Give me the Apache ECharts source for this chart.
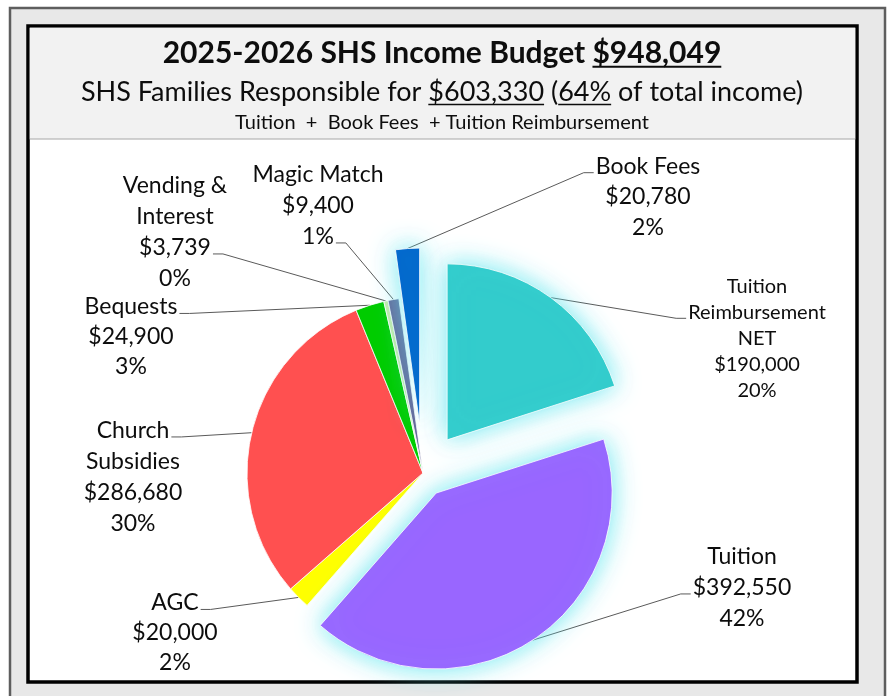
<!DOCTYPE html>
<html><head><meta charset="utf-8">
<script src="https://cdn.jsdelivr.net/npm/echarts@6/dist/echarts.min.js"></script>
<style>html,body{margin:0;padding:0;background:#fff}#c{width:892px;height:696px}</style>
</head><body><div id="c"></div>
<script>
// ---------------- data ----------------
const categories = ['Tuition Reimbursement NET','Tuition','AGC','Church Subsidies','Bequests','Vending & Interest','Magic Match','Book Fees'];
const labelNames = ['Tuition\nReimbursement\nNET','Tuition','AGC','Church\nSubsidies','Bequests','Vending &\nInterest','Magic Match','Book Fees'];
const values = [190000,392550,20000,286680,24900,3739,9400,20780];
const titleMain = '2025-2026 SHS Income Budget ';
const titleAmount = '$948,049';
const subtitleParts = ['SHS Families Responsible for ', '$603,330', ' (', '64%', ' of total income)'];
const subtitleUnderline = [false, true, false, true, false];
const noteText = 'Tuition  +  Book Fees  + Tuition Reimbursement';

// ---------------- style / layout ----------------
const colors = ['#33CCCC','#9966FF','#FFFF00','#FF5050','#00CC00','#C8EBA8','#666699','#0066CC'];
const explode = {'Tuition Reimbursement NET': 41, 'Tuition': 24, 'Book Fees': 49};
const CX = 423, CY = 473, R = 176;
const FONT = 'Lato';
const labelCfg = {
  'Tuition Reimbursement NET': {x: 757, top: 274, lh: 25.8, size: 20, side: 'left', line: 1},
  'Tuition':            {x: 742, top: 541, lh: 31, size: 23, side: 'left',  line: 1},
  'AGC':                {x: 175, top: 588, lh: 30, size: 23, side: 'right', line: 0},
  'Church Subsidies':   {x: 133, top: 415, lh: 31, size: 23, side: 'right', line: 0},
  'Bequests':           {x: 131, top: 292, lh: 30, size: 23, side: 'right', line: 0},
  'Vending & Interest': {x: 175, top: 170, lh: 31, size: 23, side: 'right', line: 2},
  'Magic Match':        {x: 318, top: 159, lh: 31, size: 23, side: 'right', line: 2},
  'Book Fees':          {x: 648, top: 151, lh: 30.5, size: 23, side: 'left', line: 0}
};

const mctx = document.createElement('canvas').getContext('2d');
function tw(text, font) { mctx.font = font; return mctx.measureText(text).width; }

const total = values.reduce((a, b) => a + b, 0);
const textCache = {};
function labelText(p) {
  const t = labelNames[p.dataIndex] + '\n$' + echarts.format.addCommas(p.value) + '\n' + p.percent + '%';
  textCache[p.dataIndex] = t;
  return t;
}

function labelLayout(params) {
  const i = params.dataIndex;
  const cfg = labelCfg[categories[i]];
  const txt = params.text || textCache[i] || labelNames[i];
  const lines = txt.split('\n');
  const lw = tw(lines[cfg.line] || '', cfg.size + 'px ' + FONT);
  const ay = cfg.top + cfg.lh * cfg.line + cfg.lh / 2 + cfg.size * 0.28;
  const ax = cfg.side === 'left' ? cfg.x - lw / 2 - 2 : cfg.x + lw / 2 + 2;
  const ex = cfg.side === 'left' ? ax - 10 : ax + 10;
  const p0 = params.labelLinePoints ? params.labelLinePoints[0] : [ex, ay];
  return {x: cfg.x, y: cfg.top, align: 'center', verticalAlign: 'top',
          labelLinePoints: [p0, [ex, ay], [ax, ay]]};
}

function makeSeries(members, center, glow) {
  return {
    type: 'pie', center: center, radius: R, startAngle: 90, clockwise: true,
    avoidLabelOverlap: false, percentPrecision: 0, silent: true, animation: false,
    emphasis: {disabled: true}, minShowLabelAngle: 0,
    label: {show: true, position: 'outside', formatter: labelText, color: '#0d0d0d',
            fontFamily: FONT, fontSize: 23, lineHeight: 31},
    labelLine: {show: true, lineStyle: {color: '#5a5a5a', width: 1}},
    labelLayout: labelLayout,
    data: categories.map((c, i) => {
      const on = members.includes(i);
      const cfg = labelCfg[c];
      const item = {name: c, value: values[i]};
      if (on) {
        item.itemStyle = Object.assign({color: colors[i], borderColor: '#fff', borderWidth: 0.8},
          glow ? {shadowBlur: 26, shadowColor: 'rgba(95,230,238,0.9)'} : {});
        item.label = {show: true, fontSize: cfg.size, lineHeight: cfg.lh};
        item.labelLine = {show: true};
      } else {
        item.itemStyle = {color: 'rgba(0,0,0,0)', borderWidth: 0};
        item.label = {show: false};
        item.labelLine = {show: false};
      }
      return item;
    })
  };
}

// cumulative mid-angles (clockwise from 12 o'clock) to place exploded slices
let cum = 0;
const midAngles = values.map(v => { const m = (cum + v / 2) / total * 2 * Math.PI; cum += v; return m; });

const baseMembers = categories.map((c, i) => i).filter(i => !(categories[i] in explode));
const series = [makeSeries(baseMembers, [CX, CY], false)];
categories.forEach((c, i) => {
  if (c in explode) {
    const d = explode[c];
    series.push(makeSeries([i], [CX + d * Math.sin(midAngles[i]), CY - d * Math.cos(midAngles[i])], true));
  }
});

// ---------------- titles (text + underlines) ----------------
const TX = 442;
const titleFont = 'bold 30px ' + FONT, subFont = '27px ' + FONT, noteFont = '20px ' + FONT;
const graphic = [
  {type: 'rect', z: -5, shape: {x: 10, y: 8, width: 875, height: 700}, style: {fill: '#e8e8e8', stroke: '#5e5e5e', lineWidth: 2.5}},
  {type: 'rect', z: -4, shape: {x: 28, y: 26, width: 829, height: 656}, style: {fill: '#fff', stroke: '#000', lineWidth: 3.5}},
  {type: 'rect', z: -3, shape: {x: 29.75, y: 27.75, width: 825.5, height: 111}, style: {fill: '#f2f2f2'}},
  {type: 'line', z: -3, shape: {x1: 29.75, y1: 139, x2: 855.25, y2: 139}, style: {stroke: '#a6a6a6', lineWidth: 1.2}}
];
function addLine(parts, underline, font, size, cy, ulw) {
  const full = parts.join('');
  const W = tw(full, font);
  let x = TX - W / 2;
  graphic.push({type: 'text', z: -2, x: TX, y: cy, style: {text: full, font: font, fill: '#0d0d0d', align: 'center', verticalAlign: 'middle'}});
  parts.forEach((p, k) => {
    const w = tw(p, font);
    if (underline[k]) {
      let s = x, e = x + w;
      const lead = p.length - p.trimStart().length, trail = p.length - p.trimEnd().length;
      if (lead) s += tw(p.slice(0, lead), font);
      if (trail) e -= tw(p.slice(p.length - trail), font);
      const uy = cy + size * 0.46;
      graphic.push({type: 'line', z: -2, shape: {x1: s, y1: uy, x2: e, y2: uy}, style: {stroke: '#0d0d0d', lineWidth: ulw}});
    }
    x += w;
  });
}
addLine([titleMain, titleAmount], [false, true], titleFont, 30, 53, 2);
addLine(subtitleParts, subtitleUnderline, subFont, 27, 92, 1.5);
addLine([noteText], [false], noteFont, 20, 123, 1);

const chart = echarts.init(document.getElementById('c'));
chart.setOption({animation: false, backgroundColor: '#fff', graphic: graphic, series: series});
</script>
</body></html>
